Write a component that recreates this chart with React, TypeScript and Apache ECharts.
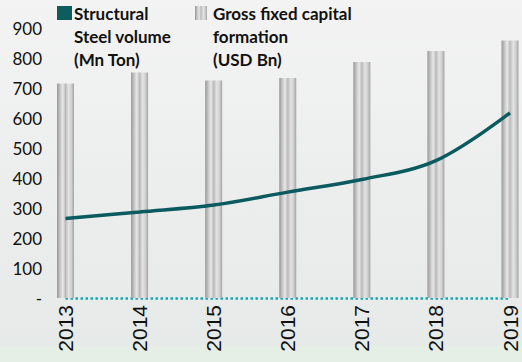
import React, { useEffect, useRef } from "react";
import * as echarts from "echarts";

const years = ["2013", "2014", "2015", "2016", "2017", "2018", "2019"];
const steelVolume = [265, 287, 310, 353, 395, 458, 617];
const grossCapital = [715, 752, 725, 733, 787, 823, 858];
const yTicks = { min: 0, max: 900, interval: 100 };

const metalGradient = () =>
  new echarts.graphic.LinearGradient(0, 0, 1, 0, [
    { offset: 0, color: "#979797" },
    { offset: 0.18, color: "#c6c6c6" },
    { offset: 0.34, color: "#e8e8e8" },
    { offset: 0.5, color: "#bababa" },
    { offset: 0.68, color: "#e4e4e4" },
    { offset: 0.85, color: "#cfcfcf" },
    { offset: 1, color: "#a2a2a2" },
  ]);

export default function App() {
  const ref = useRef<HTMLDivElement>(null);

  useEffect(() => {
    if (!ref.current) return;
    const chart = echarts.init(ref.current, undefined, { renderer: "svg" });
    const legendFont = {
      fontFamily: "Lato",
      fontWeight: "bold" as const,
      fontSize: 17,
      lineHeight: 23,
      fill: "#111",
    };
    chart.setOption({
      animation: false,
      backgroundColor: new echarts.graphic.LinearGradient(0, 0, 0, 1, [
        { offset: 0, color: "#f3f3f3" },
        { offset: 0.95, color: "#e6eae8" },
        { offset: 0.96, color: "#e5efe5" },
        { offset: 1, color: "#e5efe5" },
      ]),
      grid: { left: 65.5, right: 12, top: 28, bottom: 64 },
      xAxis: {
        type: "category",
        data: years,
        boundaryGap: false,
        axisLine: {
          show: true,
          lineStyle: {
            color: "#1aa6b4",
            width: 2.5,
            type: "dotted",
            cap: "butt",
          },
        },
        axisTick: { show: false },
        axisLabel: {
          rotate: 90,
          fontSize: 21,
          color: "#111",
          fontFamily: "Liberation Sans",
          margin: 7,
        },
      },
      yAxis: {
        type: "value",
        min: yTicks.min,
        max: yTicks.max,
        interval: yTicks.interval,
        splitLine: { show: false },
        axisLine: { show: false },
        axisTick: { show: false },
        axisLabel: {
          fontSize: 17,
          color: "#111",
          fontFamily: "Lato",
          margin: 23.5,
          formatter: (v: number) => (v === 0 ? "-" : String(v)),
        },
      },
      series: [
        {
          name: "Gross fixed capital formation (USD Bn)",
          type: "bar",
          data: grossCapital,
          barWidth: 17,
          itemStyle: { color: metalGradient() },
          z: 2,
        },
        {
          name: "Structural Steel volume (Mn Ton)",
          type: "line",
          data: steelVolume,
          smooth: 0.35,
          showSymbol: false,
          lineStyle: { color: "#0b5a60", width: 3.5 },
          z: 3,
        },
      ],
      graphic: [
        {
          type: "rect",
          left: 57,
          top: 6,
          shape: { width: 15, height: 14 },
          style: { fill: "#0d5c5e" },
        },
        {
          type: "text",
          left: 74,
          top: 2,
          style: { text: "Structural\nSteel volume\n(Mn Ton)", ...legendFont },
        },
        {
          type: "rect",
          left: 195,
          top: 6,
          shape: { width: 12, height: 14 },
          style: { fill: metalGradient() },
        },
        {
          type: "text",
          left: 213,
          top: 2,
          style: { text: "Gross fixed capital\nformation\n(USD Bn)", ...legendFont },
        },
      ],
    });
    return () => chart.dispose();
  }, []);

  return (
    <div
      ref={ref}
      style={{ position: "fixed", left: 0, top: 0, width: 522, height: 362 }}
    />
  );
}
